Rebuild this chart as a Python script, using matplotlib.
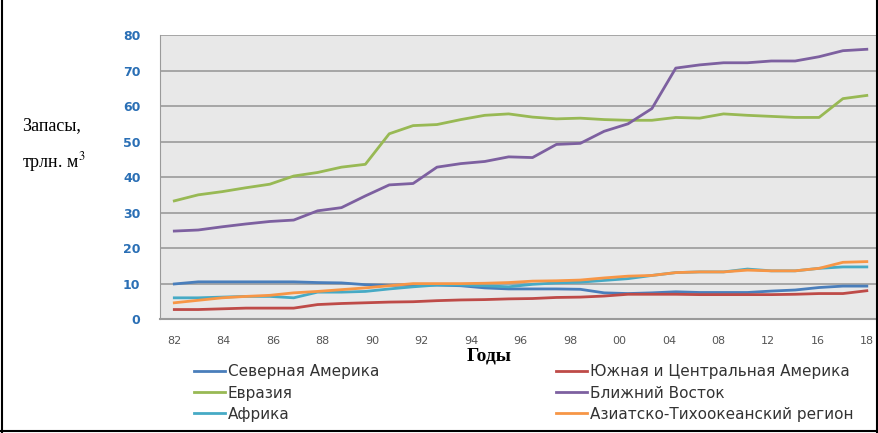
import matplotlib.pyplot as plt
import numpy as np
from matplotlib.lines import Line2D

# Запасы природного газа по регионам, трлн. м3
tick_labels = ['82', '84', '86', '88', '90', '92', '94', '96', '98',
               '00', '04', '08', '12', '16', '18']

north_america = [9.9, 10.5, 10.5, 10.5, 10.5, 10.5, 10.3, 10.2, 9.7, 9.5,
                 9.6, 9.6, 9.4, 8.8, 8.5, 8.5, 8.5, 8.4, 7.4, 7.2,
                 7.4, 7.7, 7.5, 7.5, 7.5, 7.9, 8.2, 8.9, 9.3, 9.3]
south_america = [2.7, 2.7, 2.9, 3.1, 3.1, 3.1, 4.1, 4.4, 4.6, 4.8,
                 4.9, 5.2, 5.4, 5.5, 5.7, 5.8, 6.1, 6.2, 6.5, 7.0,
                 7.0, 7.0, 6.9, 6.9, 6.9, 6.9, 7.0, 7.2, 7.2, 8.0]
eurasia = [33.3, 35.0, 35.9, 37.0, 38.0, 40.3, 41.3, 42.8, 43.6, 52.2,
           54.5, 54.8, 56.2, 57.4, 57.8, 56.9, 56.4, 56.6, 56.2, 56.0,
           56.0, 56.8, 56.6, 57.8, 57.4, 57.1, 56.8, 56.8, 62.1, 63.0]
middle_east = [24.8, 25.1, 26.0, 26.8, 27.5, 27.9, 30.5, 31.4, 34.7, 37.8,
               38.2, 42.8, 43.8, 44.4, 45.7, 45.5, 49.2, 49.5, 52.9, 55.0,
               59.3, 70.7, 71.6, 72.2, 72.2, 72.7, 72.7, 73.9, 75.6, 76.0]
africa = [6.0, 6.0, 6.2, 6.4, 6.4, 6.0, 7.6, 7.6, 7.8, 8.5,
          9.1, 9.6, 9.6, 9.4, 9.1, 9.8, 10.2, 10.4, 10.9, 11.4,
          12.3, 13.1, 13.3, 13.3, 14.1, 13.6, 13.6, 14.3, 14.7, 14.7]
asia_pacific = [4.6, 5.3, 6.0, 6.4, 6.7, 7.4, 7.8, 8.3, 8.8, 9.4,
                10.0, 10.0, 10.0, 10.1, 10.3, 10.7, 10.8, 11.0, 11.6, 12.1,
                12.3, 13.1, 13.3, 13.3, 13.8, 13.6, 13.6, 14.3, 16.0, 16.2]

series = [
    ('Северная Америка', north_america, '#4a7ebb'),
    ('Южная и Центральная Америка', south_america, '#be4b48'),
    ('Евразия', eurasia, '#98b954'),
    ('Ближний Восток', middle_east, '#7d60a0'),
    ('Африка', africa, '#46aac5'),
    ('Азиатско-Тихоокеанский регион', asia_pacific, '#f79646'),
]

plt.rcParams['mathtext.fontset'] = 'stix'

fig = plt.figure(figsize=(8.79, 4.33), dpi=100)
ax = fig.add_axes([0.182, 0.263, 0.815, 0.656])
ax.set_facecolor('#e8e8e8')

x = np.arange(len(eurasia))
lines = {}
for name, vals, col in series:
    lines[name], = ax.plot(x, vals, color=col, linewidth=2.0, label=name)

ax.set_ylim(0, 80)
ax.set_yticks(np.arange(0, 81, 10))
ax.set_xlim(-0.6, len(x) - 0.6)
ax.set_xticks(np.linspace(0, len(x) - 1, len(tick_labels)))
ax.set_xticklabels(tick_labels)
ax.grid(axis='y', color='#9a9a9a', linewidth=1.2)
ax.set_axisbelow(True)
ax.tick_params(length=0)
ax.tick_params(axis='y', pad=14, labelsize=9, labelcolor='#2a6fb5')
for t in ax.get_yticklabels():
    t.set_fontweight('bold')
ax.tick_params(axis='x', pad=12, labelsize=8, labelcolor='#555555')
for s in ['top', 'right']:
    ax.spines[s].set_visible(False)
ax.spines['left'].set_color('#9a9a9a')
ax.spines['bottom'].set_color('#9a9a9a')
ax.spines['bottom'].set_linewidth(1.5)

fig.text(0.025, 0.71, 'Запасы,', family='Liberation Serif', fontsize=13, va='center')
fig.text(0.025, 0.625, 'трлн. м$^3$', family='Liberation Serif', fontsize=13, va='center')
fig.text(0.557, 0.177, 'Годы', family='Liberation Serif', fontsize=14,
         fontweight='bold', ha='center', va='center')

order = ['Северная Америка', 'Евразия', 'Африка',
         'Южная и Центральная Америка', 'Ближний Восток', 'Азиатско-Тихоокеанский регион']
leg = fig.legend([lines[n] for n in order], order, ncol=2, loc='upper left',
                 bbox_to_anchor=(0.205, 0.19), frameon=False, fontsize=11,
                 handlelength=2.0, handletextpad=0.2, labelspacing=0.4,
                 columnspacing=11.6)
for t in leg.get_texts():
    t.set_color('#333333')

# рамка рисунка
fig.add_artist(Line2D([0.002, 0.002], [0, 1], color='black', linewidth=1.5))
fig.add_artist(Line2D([0.998, 0.998], [0, 1], color='black', linewidth=1.5))
fig.add_artist(Line2D([0, 1], [0.004, 0.004], color='black', linewidth=1.5))

fig.savefig('out.png', dpi=100)
